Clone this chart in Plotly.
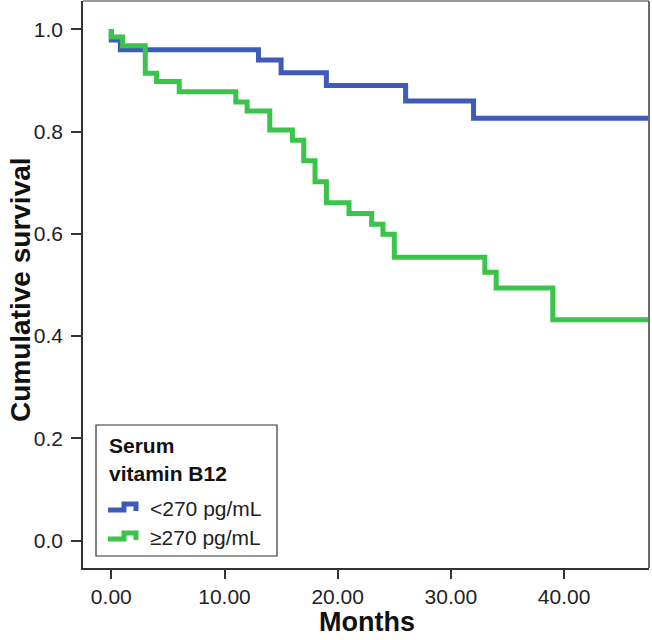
import plotly.graph_objects as go

# ---- data ----
months_low = [0, 0, 0.8, 13, 15, 19, 26, 32, 48]
surv_low = [1.0, 0.979, 0.960, 0.940, 0.915, 0.890, 0.860, 0.826, 0.826]

months_high = [0, 0, 1, 3, 4, 6, 11, 12, 14, 16, 17, 18, 19, 21, 23, 24, 25, 33, 34, 39, 48]
surv_high = [1.0, 0.985, 0.968, 0.914, 0.898, 0.878, 0.858, 0.840, 0.803, 0.783, 0.743,
             0.702, 0.661, 0.640, 0.619, 0.599, 0.554, 0.525, 0.494, 0.432, 0.432]

x_ticks = [0, 10, 20, 30, 40]
x_tick_labels = ["0.00", "10.00", "20.00", "30.00", "40.00"]
y_ticks = [0.0, 0.2, 0.4, 0.6, 0.8, 1.0]
y_tick_labels = ["0.0", "0.2", "0.4", "0.6", "0.8", "1.0"]

legend_title = ["Serum", "vitamin B12"]
names = ["<270 pg/mL", "≥270 pg/mL"]
BLUE = "rgb(62,90,186)"
GREEN = "rgb(58,196,74)"
FONT = "Arial, Liberation Sans, Helvetica, sans-serif"

W, H = 652, 640
L, R, T, B = 83, 3, 1, 72
pw, ph = W - L - R, H - T - B


def px(x):
    return (x - L) / pw


def py(y):
    return (H - B - y) / ph


fig = go.Figure()
fig.add_trace(go.Scatter(x=months_low, y=surv_low, mode="lines", name=names[0],
                         line=dict(color=BLUE, width=5, shape="hv"), showlegend=False))
fig.add_trace(go.Scatter(x=months_high, y=surv_high, mode="lines", name=names[1],
                         line=dict(color=GREEN, width=5, shape="hv"), showlegend=False))

axis_common = dict(showgrid=False, zeroline=False, showline=True, linecolor="#333333",
                   linewidth=1.5, ticks="outside", tickcolor="#333333", tickwidth=1.5,
                   tickfont=dict(family=FONT, size=21, color="#222222"))
fig.update_xaxes(range=[-2.5, 47.5], tickvals=x_ticks, ticktext=x_tick_labels, ticklen=9,
                 **axis_common)
fig.update_yaxes(range=[-0.0534, 1.0553], tickvals=y_ticks, ticktext=y_tick_labels, ticklen=10,
                 ticklabelstandoff=4, **axis_common)

shapes = [
    # top and right frame lines (gray)
    dict(type="line", xref="paper", yref="paper", x0=0, x1=1, y0=1, y1=1,
         line=dict(color="#9a9a9a", width=2)),
    dict(type="line", xref="paper", yref="paper", x0=1, x1=1, y0=0, y1=1,
         line=dict(color="#6a6a6a", width=2)),
    # legend box
    dict(type="rect", xref="paper", yref="paper", x0=px(96), x1=px(277), y0=py(556), y1=py(425),
         line=dict(color="#333333", width=1.2), fillcolor="white", layer="above"),
]
for yc, col in [(507, BLUE), (536, GREEN)]:
    path = "M {:.4f},{:.4f} L {:.4f},{:.4f} L {:.4f},{:.4f} L {:.4f},{:.4f} L {:.4f},{:.4f}".format(
        px(108), py(yc + 3), px(124), py(yc + 3), px(124), py(yc - 3), px(136), py(yc - 3),
        px(136), py(yc + 4))
    shapes.append(dict(type="path", xref="paper", yref="paper", path=path,
                       line=dict(color=col, width=5), layer="above"))

annotations = [
    dict(text="<b>" + legend_title[0] + "</b>", xref="paper", yref="paper", x=px(107), y=py(445),
         xanchor="left", yanchor="middle", showarrow=False,
         font=dict(family=FONT, size=21, color="#111111")),
    dict(text="<b>" + legend_title[1] + "</b>", xref="paper", yref="paper", x=px(107), y=py(473),
         xanchor="left", yanchor="middle", showarrow=False,
         font=dict(family=FONT, size=21, color="#111111")),
    dict(text=names[0], xref="paper", yref="paper", x=px(148), y=py(508),
         xanchor="left", yanchor="middle", showarrow=False,
         font=dict(family=FONT, size=21, color="#222222")),
    dict(text=names[1], xref="paper", yref="paper", x=px(148), y=py(537),
         xanchor="left", yanchor="middle", showarrow=False,
         font=dict(family=FONT, size=21, color="#222222")),
    dict(text="<b>Months</b>", xref="paper", yref="paper", x=px(367), y=py(622),
         xanchor="center", yanchor="middle", showarrow=False,
         font=dict(family=FONT, size=27, color="#111111")),
    dict(text="<b>Cumulative survival</b>", xref="paper", yref="paper", x=px(20), y=py(290),
         xanchor="center", yanchor="middle", showarrow=False, textangle=-90,
         font=dict(family=FONT, size=28, color="#111111")),
]

fig.update_layout(width=W, height=H, margin=dict(l=L, r=R, t=T, b=B),
                  paper_bgcolor="white", plot_bgcolor="white",
                  shapes=shapes, annotations=annotations, showlegend=False)

fig.write_html("out.html", config={"displayModeBar": False},
               post_script="document.body.style.margin='0';document.body.style.padding='0';")
